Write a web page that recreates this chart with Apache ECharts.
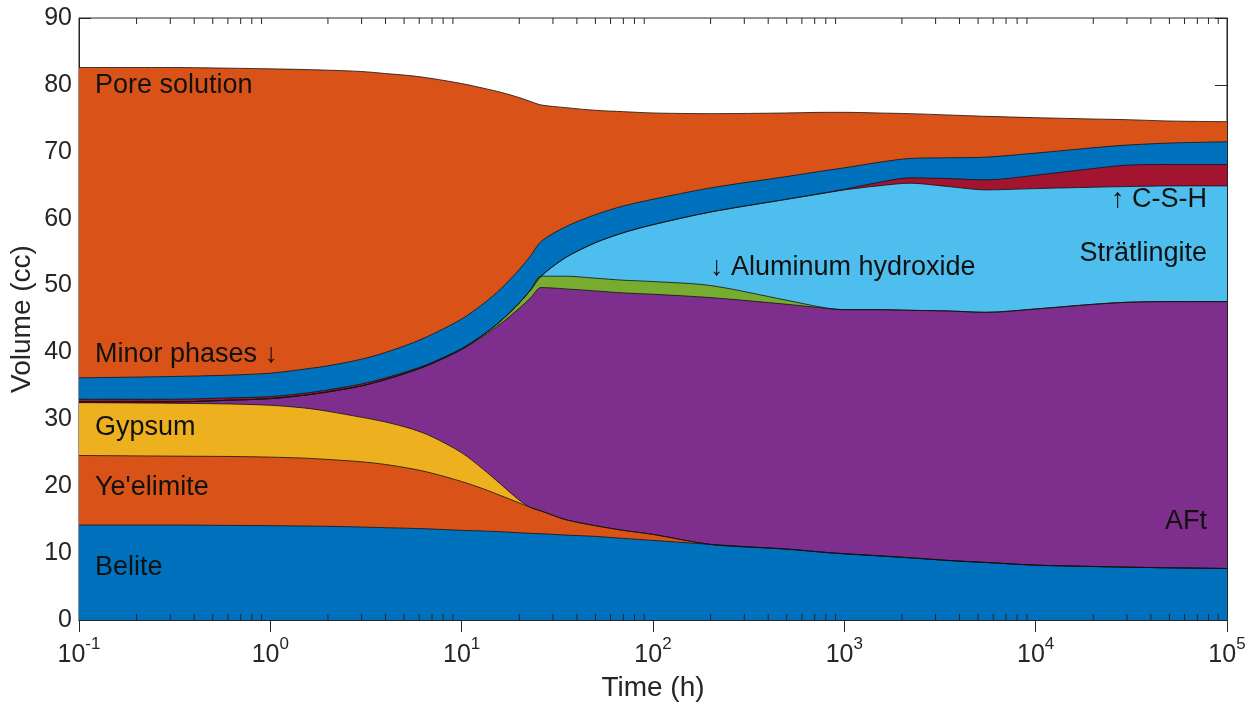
<!DOCTYPE html>
<html>
<head>
<meta charset="utf-8">
<script src="https://cdn.jsdelivr.net/npm/echarts@6/dist/echarts.min.js"></script>
<style>
  html, body { margin: 0; padding: 0; background: #fff; }
  #chart { width: 1255px; height: 702px; }
</style>
</head>
<body>
<div id="chart"></div>
<script>
// Hydration time (h), log-spaced sample points
const hours = [0.1, 0.3, 0.6, 1, 1.5, 2, 3, 4, 5.5, 7, 10, 13, 16, 20, 23, 26, 35, 50, 70, 100,
               200, 500, 800, 1000, 1500, 2200, 3500, 5500, 10000, 20000, 30000, 50000, 100000];

// Phase volumes (cc), listed bottom to top of the stack
const belite       = [14.2, 14.2, 14.15, 14.1, 14.05, 14.0, 13.9, 13.8, 13.7, 13.6, 13.4, 13.3, 13.2, 13.05, 12.95, 12.9, 12.7, 12.5, 12.2, 11.9,
                      11.3, 10.6, 10.1, 9.9, 9.6, 9.3, 8.9, 8.6, 8.2, 8.0, 7.9, 7.8, 7.7];
const yeelimite    = [10.4, 10.3, 10.3, 10.25, 10.15, 10.0, 9.75, 9.45, 8.9, 8.35, 7.3, 6.3, 5.4, 4.45, 3.85, 3.4, 2.3, 1.6, 1.2, 0.9,
                      0, 0, 0, 0, 0, 0, 0, 0, 0, 0, 0, 0, 0];
const gypsum       = [7.9, 7.9, 7.85, 7.75, 7.5, 7.2, 6.65, 6.35, 5.95, 5.45, 4.3, 2.9, 1.7, 0.4, 0, 0, 0, 0, 0, 0,
                      0, 0, 0, 0, 0, 0, 0, 0, 0, 0, 0, 0, 0];
const aft          = [0.1, 0.2, 0.55, 1.0, 1.9, 2.9, 4.7, 6.35, 8.65, 10.95, 15.4, 19.95, 24.0, 28.7, 31.4, 33.4, 34.5, 35.1, 35.5, 35.9,
                      36.9, 36.6, 36.5, 36.5, 36.8, 37.0, 37.3, 37.4, 38.3, 39.2, 39.6, 39.8, 39.9];
const alOH         = [0, 0, 0, 0, 0, 0, 0, 0, 0, 0, 0.1, 0.2, 0.4, 0.8, 1.2, 1.7, 1.9, 1.9, 1.9, 1.9,
                      1.8, 0.6, 0.05, 0, 0, 0, 0, 0, 0, 0, 0, 0, 0];
const stratlingite = [0, 0, 0, 0, 0, 0, 0, 0, 0, 0, 0, 0, 0, 0, 0, 0, 2.8, 5.3, 7.1, 8.5,
                      11.0, 15.1, 17.2, 17.9, 18.5, 19.0, 18.6, 18.3, 18.0, 17.5, 17.3, 17.3, 17.3];
const csh          = [0.4, 0.4, 0.35, 0.3, 0.3, 0.3, 0.3, 0.25, 0.2, 0.15, 0.1, 0.05, 0, 0, 0, 0, 0, 0, 0, 0,
                      0, 0, 0.05, 0.1, 0.5, 0.8, 1.2, 1.5, 2.0, 2.8, 3.2, 3.2, 3.2];
const minor        = [3.2, 3.4, 3.4, 3.5, 3.6, 3.6, 3.7, 3.8, 4.0, 4.2, 4.4, 4.6, 4.8, 5.0, 5.1, 5.2, 4.6, 4.2, 4.0, 3.8,
                      3.6, 3.4, 3.3, 3.2, 3.0, 2.9, 3.1, 3.4, 3.3, 3.1, 3.0, 3.2, 3.4];
const pore         = [46.4, 46.2, 45.9, 45.5, 44.8, 44.2, 43.0, 41.7, 39.95, 38.25, 35.2, 32.2, 29.4, 25.7, 23.0, 20.4, 17.8, 15.6, 14.1, 12.9,
                      11.1, 9.5, 8.7, 8.3, 7.4, 6.7, 6.4, 6.1, 5.3, 4.3, 3.8, 3.3, 3.0];

const phases = [
  { name: 'Belite',             data: belite,       color: '#0072BD' },
  { name: "Ye'elimite",         data: yeelimite,    color: '#D95319' },
  { name: 'Gypsum',             data: gypsum,       color: '#EDB120' },
  { name: 'AFt',                data: aft,          color: '#7E2F8E' },
  { name: 'Aluminum hydroxide', data: alOH,         color: '#77AC30' },
  { name: 'Strätlingite',       data: stratlingite, color: '#4DBEEE' },
  { name: 'C-S-H',              data: csh,          color: '#A2142F' },
  { name: 'Minor phases',       data: minor,        color: '#0072BD' },
  { name: 'Pore solution',      data: pore,         color: '#D95319' }
];

// Axis ticks
const yTicks = [0, 10, 20, 30, 40, 50, 60, 70, 80, 90];
const decadeExponents = [-1, 0, 1, 2, 3, 4, 5];
const minorMultipliers = [2, 3, 4, 5, 6, 7, 8, 9];

const minorTickValues = [];
decadeExponents.slice(0, -1).forEach(e => {
  minorMultipliers.forEach(m => minorTickValues.push([m * Math.pow(10, e), 0]));
});

const FONT = '"Liberation Sans", Arial, Helvetica, sans-serif';
const AX = '#262626';

const chart = echarts.init(document.getElementById('chart'), null, { renderer: 'canvas' });

// Cumulative tops of the stack; each band is painted from the axis floor
// upward, topmost first, so every lower band covers the one above it.
const running = hours.map(() => 0);
const cumulative = phases.map(p => {
  p.data.forEach((v, i) => { running[i] += v; });
  return { name: p.name, color: p.color, tops: running.slice() };
});

const areaSeries = cumulative.slice().reverse().map(c => ({
  name: c.name,
  type: 'line',
  data: hours.map((t, i) => [t, +c.tops[i].toFixed(3)]),
  showSymbol: false,
  smooth: 0.3,
  lineStyle: { color: '#111', width: 0.8 },
  areaStyle: { color: c.color, opacity: 1, origin: 'start' },
  itemStyle: { color: c.color },
  silent: true,
  z: 2
}));

// Minor ticks of the log axis (2..9 within each decade), top and bottom
const minorTickSeries = {
  type: 'custom',
  silent: true,
  z: 10,
  clip: false,
  data: minorTickValues,
  renderItem: (params, api) => {
    const x = api.coord([api.value(0), 0])[0];
    const yb = api.coord([api.value(0), 0])[1];
    const yt = api.coord([api.value(0), 90])[1];
    const s = { stroke: AX, lineWidth: 1 };
    return {
      type: 'group',
      children: [
        { type: 'line', shape: { x1: x, y1: yb, x2: x, y2: yb - 6 }, style: s },
        { type: 'line', shape: { x1: x, y1: yt, x2: x, y2: yt + 6 }, style: s }
      ]
    };
  }
};

const textStyleBase = { fontFamily: FONT, fontSize: 27, fill: '#111' };
const annotations = [
  { text: 'Pore solution',             x: 95,   y: 86,  align: 'left' },
  { text: 'Minor phases \u2193',        x: 95,   y: 355, align: 'left' },
  { text: 'Gypsum',                    x: 95,   y: 428, align: 'left' },
  { text: "Ye'elimite",                x: 95,   y: 488, align: 'left' },
  { text: 'Belite',                    x: 95,   y: 568, align: 'left' },
  { text: '\u2193 Aluminum hydroxide',  x: 710,  y: 268, align: 'left' },
  { text: '\u2191 C-S-H',              x: 1207, y: 200, align: 'right' },
  { text: 'Strätlingite',              x: 1207, y: 254, align: 'right' },
  { text: 'AFt',                       x: 1207, y: 522, align: 'right' }
];

const option = {
  backgroundColor: '#fff',
  animation: false,
  grid: {
    left: 79, right: 28, top: 18, bottom: 82,
    containLabel: false, outerBoundsMode: 'none',
    show: true, borderColor: AX, borderWidth: 1, backgroundColor: 'transparent'
  },
  xAxis: [
    {
      type: 'log', logBase: 10, min: 0.1, max: 100000, splitNumber: 6,
      position: 'bottom',
      axisLine: { show: true, lineStyle: { color: AX, width: 1 } },
      axisTick: { show: true, inside: true, length: 12, lineStyle: { color: AX, width: 1 } },
      splitLine: { show: false },
      minorTick: { show: false },
      axisLabel: {
        margin: 16,
        color: AX,
        formatter: v => '{b|10}{s|' + Math.round(Math.log10(v)) + '}',
        rich: {
          b: { fontFamily: FONT, fontSize: 25, color: AX, verticalAlign: 'bottom', lineHeight: 32 },
          s: { fontFamily: FONT, fontSize: 17, color: AX, verticalAlign: 'top', lineHeight: 32 }
        }
      },
      name: 'Time (h)',
      nameLocation: 'middle',
      nameGap: 54,
      nameMoveOverlap: false,
      nameTextStyle: { fontFamily: FONT, fontSize: 28, color: AX }
    },
    {
      type: 'log', logBase: 10, min: 0.1, max: 100000, splitNumber: 6,
      position: 'top',
      axisLine: { show: true, lineStyle: { color: AX, width: 1 } },
      axisTick: { show: true, inside: true, length: 12, lineStyle: { color: AX, width: 1 } },
      axisLabel: { show: false },
      splitLine: { show: false }
    }
  ],
  yAxis: [
    {
      type: 'value', min: 0, max: 90, interval: 10,
      axisLine: { show: true, lineStyle: { color: AX, width: 1 } },
      axisTick: { show: true, inside: true, length: 12, lineStyle: { color: AX, width: 1 } },
      splitLine: { show: false },
      axisLabel: {
        margin: 7, color: AX, fontFamily: FONT, fontSize: 25,
        formatter: v => (yTicks.includes(v) ? String(v) : '')
      },
      name: 'Volume (cc)',
      nameLocation: 'middle',
      nameGap: 43,
      nameMoveOverlap: false,
      nameRotate: 90,
      nameTextStyle: { fontFamily: FONT, fontSize: 28, color: AX }
    },
    {
      type: 'value', min: 0, max: 90, interval: 10,
      position: 'right',
      axisLine: { show: true, lineStyle: { color: AX, width: 1 } },
      axisTick: { show: true, inside: true, length: 12, lineStyle: { color: AX, width: 1 } },
      axisLabel: { show: false },
      splitLine: { show: false }
    }
  ],
  series: [...areaSeries, minorTickSeries],
  graphic: annotations.map(a => ({
    type: 'text',
    x: a.x,
    y: a.y,
    z: 20,
    silent: true,
    style: Object.assign({}, textStyleBase, { text: a.text, textAlign: a.align, textVerticalAlign: 'middle' })
  }))
};

chart.setOption(option);
</script>
</body>
</html>
